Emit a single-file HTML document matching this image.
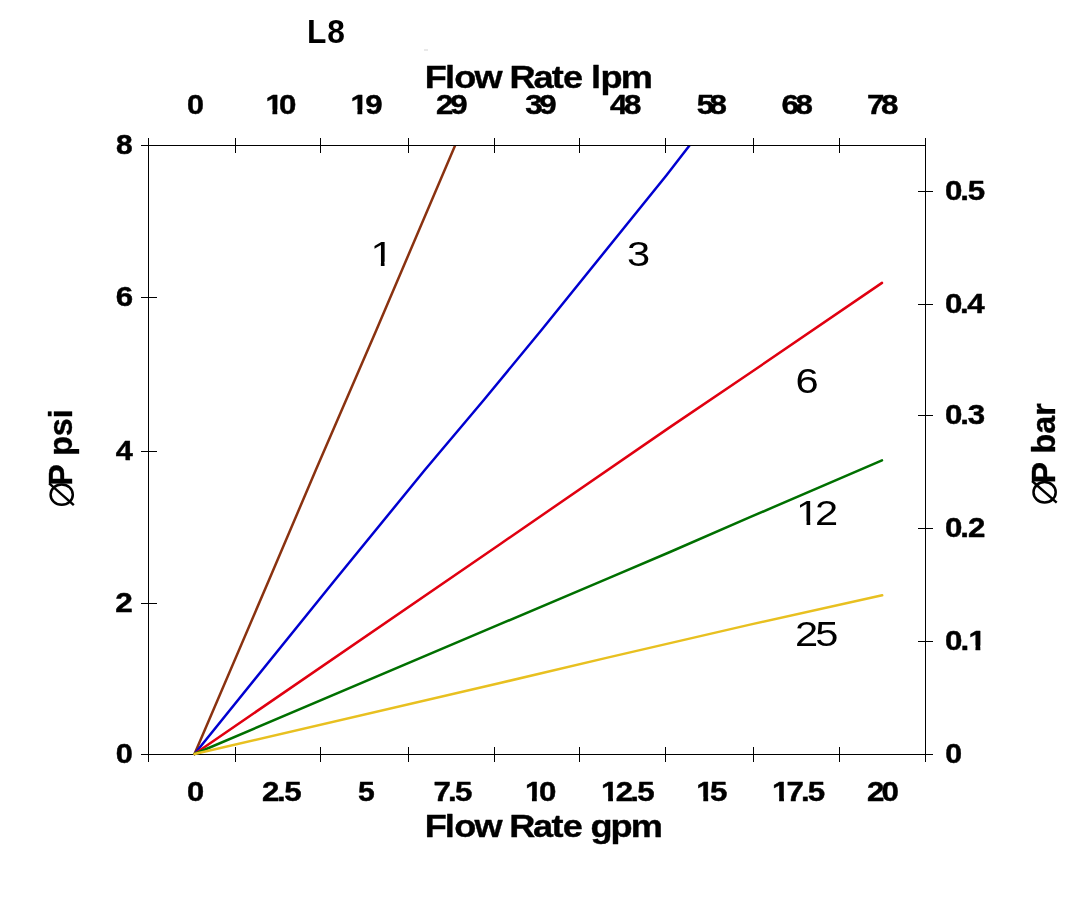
<!DOCTYPE html>
<html><head><meta charset="utf-8"><title>L8 Flow Rate vs Pressure Drop</title>
<style>
html,body{margin:0;padding:0;background:#fff;}
body{width:1086px;height:908px;overflow:hidden;font-family:"Liberation Sans", sans-serif;}
svg{display:block;will-change:transform;}
text{font-family:"Liberation Sans", sans-serif;}
</style></head><body>
<svg width="1086" height="908" viewBox="0 0 1086 908">
<rect x="0" y="0" width="1086" height="908" fill="#fff"/>
<rect x="424" y="49.5" width="4" height="1" fill="#d4d4d4"/>

<defs><clipPath id="c1_B_2720_22" clipPathUnits="userSpaceOnUse"><rect x="-5" y="-60" width="60" height="55.604"/><rect x="6.128" y="-60" width="4.172" height="70"/></clipPath><clipPath id="c1_R_3500_0" clipPathUnits="userSpaceOnUse"><rect x="-5" y="-60" width="60" height="55.985"/><rect x="8.801" y="-60" width="3.093" height="70"/></clipPath></defs>
<g stroke="#000" stroke-width="1.1" fill="none" shape-rendering="crispEdges">
<line x1="141" y1="145.5" x2="926.0" y2="145.5"/>
<line x1="141" y1="754.5" x2="933" y2="754.5"/>
<line x1="148.5" y1="138" x2="148.5" y2="762"/>
<line x1="925.5" y1="138" x2="925.5" y2="762"/>
<line x1="235.5" y1="138" x2="235.5" y2="153"/>
<line x1="235.5" y1="747" x2="235.5" y2="762"/>
<line x1="320.5" y1="138" x2="320.5" y2="153"/>
<line x1="320.5" y1="747" x2="320.5" y2="762"/>
<line x1="408.5" y1="138" x2="408.5" y2="153"/>
<line x1="408.5" y1="747" x2="408.5" y2="762"/>
<line x1="494.5" y1="138" x2="494.5" y2="153"/>
<line x1="494.5" y1="747" x2="494.5" y2="762"/>
<line x1="579.5" y1="138" x2="579.5" y2="153"/>
<line x1="579.5" y1="747" x2="579.5" y2="762"/>
<line x1="665.5" y1="138" x2="665.5" y2="153"/>
<line x1="665.5" y1="747" x2="665.5" y2="762"/>
<line x1="753.5" y1="138" x2="753.5" y2="153"/>
<line x1="753.5" y1="747" x2="753.5" y2="762"/>
<line x1="839.5" y1="138" x2="839.5" y2="153"/>
<line x1="839.5" y1="747" x2="839.5" y2="762"/>
<line x1="141" y1="603.5" x2="157" y2="603.5"/>
<line x1="141" y1="451.5" x2="157" y2="451.5"/>
<line x1="141" y1="297.5" x2="157" y2="297.5"/>
<line x1="918" y1="641.5" x2="933" y2="641.5"/>
<line x1="918" y1="528.5" x2="933" y2="528.5"/>
<line x1="918" y1="415.5" x2="933" y2="415.5"/>
<line x1="918" y1="304.5" x2="933" y2="304.5"/>
<line x1="918" y1="191.5" x2="933" y2="191.5"/>
</g>
<clipPath id="plot"><rect x="140" y="146" width="800" height="620"/></clipPath>
<g fill="none" stroke-width="2.5" stroke-linejoin="round" stroke-linecap="round" clip-path="url(#plot)">
<polyline stroke="#8a3210" points="194.5,754.0 269.0,580.0 315.8,470.0 376.4,330.0 455.1,145.5"/>
<polyline stroke="#0000d0" points="194.5,754.0 335.0,580.0 424.8,470.0 483.8,400.0 541.5,330.0 666.7,175.0 689.5,145.5"/>
<polyline stroke="#e00010" points="194.5,754.0 500.0,544.2 670.0,427.1 750.0,373.0 882.0,282.9"/>
<polyline stroke="#007000" points="194.5,754.0 500.0,624.2 607.5,578.6 670.0,552.0 750.0,517.2 882.0,460.4"/>
<polyline stroke="#e8c020" points="194.5,754.0 500.0,683.0 607.5,657.6 750.0,624.6 882.2,595.3"/>
</g>
<text transform="translate(187.04 113.83) scale(1.121 1)" x="0.00" y="0" font-size="27.20" font-weight="bold" fill="#000" stroke="#000" stroke-width="0.45" stroke-linejoin="round">0</text>
<text transform="translate(265.41 113.83) scale(1.150 1)" x="0" y="0" font-size="27.20" font-weight="bold" fill="#000" stroke="#000" stroke-width="0.43" stroke-linejoin="round" clip-path="url(#c1_B_2720_22)">1</text>
<text transform="translate(265.41 113.83) scale(1.150 1)" x="11.85" y="0" font-size="27.20" font-weight="bold" fill="#000" stroke="#000" stroke-width="0.43" stroke-linejoin="round">0</text>
<text transform="translate(350.41 113.83) scale(1.150 1)" x="0" y="0" font-size="27.20" font-weight="bold" fill="#000" stroke="#000" stroke-width="0.43" stroke-linejoin="round" clip-path="url(#c1_B_2720_22)">1</text>
<text transform="translate(350.41 113.83) scale(1.150 1)" x="12.96" y="0" font-size="27.20" font-weight="bold" fill="#000" stroke="#000" stroke-width="0.43" stroke-linejoin="round">9</text>
<text transform="translate(435.97 113.83) scale(1.150 1)" x="0.00 12.48" y="0" font-size="27.20" font-weight="bold" fill="#000" stroke="#000" stroke-width="0.43" stroke-linejoin="round">29</text>
<text transform="translate(525.33 113.83) scale(1.150 1)" x="0.00 12.07" y="0" font-size="27.20" font-weight="bold" fill="#000" stroke="#000" stroke-width="0.43" stroke-linejoin="round">39</text>
<text transform="translate(610.08 113.83) scale(1.150 1)" x="0.00 12.12" y="0" font-size="27.20" font-weight="bold" fill="#000" stroke="#000" stroke-width="0.43" stroke-linejoin="round">48</text>
<text transform="translate(696.79 113.83) scale(1.150 1)" x="0.00 10.98" y="0" font-size="27.20" font-weight="bold" fill="#000" stroke="#000" stroke-width="0.43" stroke-linejoin="round">58</text>
<text transform="translate(781.60 113.83) scale(1.150 1)" x="0.00 12.18" y="0" font-size="27.20" font-weight="bold" fill="#000" stroke="#000" stroke-width="0.43" stroke-linejoin="round">68</text>
<text transform="translate(867.11 113.83) scale(1.150 1)" x="0.00 12.01" y="0" font-size="27.20" font-weight="bold" fill="#000" stroke="#000" stroke-width="0.43" stroke-linejoin="round">78</text>
<text transform="translate(186.93 801.23) scale(1.136 1)" x="0.00" y="0" font-size="27.20" font-weight="bold" fill="#000" stroke="#000" stroke-width="0.44" stroke-linejoin="round">0</text>
<text transform="translate(261.97 801.23) scale(1.150 1)" x="0.00 13.01 19.44" y="0" font-size="27.20" font-weight="bold" fill="#000" stroke="#000" stroke-width="0.43" stroke-linejoin="round">2.5</text>
<text transform="translate(357.92 801.23) scale(1.108 1)" x="0.00" y="0" font-size="27.20" font-weight="bold" fill="#000" stroke="#000" stroke-width="0.45" stroke-linejoin="round">5</text>
<text transform="translate(433.51 801.23) scale(1.150 1)" x="0.00 12.69 18.80" y="0" font-size="27.20" font-weight="bold" fill="#000" stroke="#000" stroke-width="0.43" stroke-linejoin="round">7.5</text>
<text transform="translate(524.91 801.23) scale(1.150 1)" x="0" y="0" font-size="27.20" font-weight="bold" fill="#000" stroke="#000" stroke-width="0.43" stroke-linejoin="round" clip-path="url(#c1_B_2720_22)">1</text>
<text transform="translate(524.91 801.23) scale(1.150 1)" x="12.28" y="0" font-size="27.20" font-weight="bold" fill="#000" stroke="#000" stroke-width="0.43" stroke-linejoin="round">0</text>
<text transform="translate(601.11 801.23) scale(1.150 1)" x="0" y="0" font-size="27.20" font-weight="bold" fill="#000" stroke="#000" stroke-width="0.43" stroke-linejoin="round" clip-path="url(#c1_B_2720_22)">1</text>
<text transform="translate(601.11 801.23) scale(1.150 1)" x="12.66 25.32 31.40" y="0" font-size="27.20" font-weight="bold" fill="#000" stroke="#000" stroke-width="0.43" stroke-linejoin="round">2.5</text>
<text transform="translate(696.31 801.23) scale(1.150 1)" x="0" y="0" font-size="27.20" font-weight="bold" fill="#000" stroke="#000" stroke-width="0.43" stroke-linejoin="round" clip-path="url(#c1_B_2720_22)">1</text>
<text transform="translate(696.31 801.23) scale(1.150 1)" x="12.01" y="0" font-size="27.20" font-weight="bold" fill="#000" stroke="#000" stroke-width="0.43" stroke-linejoin="round">5</text>
<text transform="translate(772.11 801.23) scale(1.150 1)" x="0" y="0" font-size="27.20" font-weight="bold" fill="#000" stroke="#000" stroke-width="0.43" stroke-linejoin="round" clip-path="url(#c1_B_2720_22)">1</text>
<text transform="translate(772.11 801.23) scale(1.150 1)" x="12.52 25.03 30.97" y="0" font-size="27.20" font-weight="bold" fill="#000" stroke="#000" stroke-width="0.43" stroke-linejoin="round">7.5</text>
<text transform="translate(866.97 801.23) scale(1.150 1)" x="0.00 12.58" y="0" font-size="27.20" font-weight="bold" fill="#000" stroke="#000" stroke-width="0.43" stroke-linejoin="round">20</text>
<text transform="translate(115.74 762.86) scale(1.129 1)" x="0.00" y="0" font-size="27.20" font-weight="bold" fill="#000" stroke="#000" stroke-width="0.44" stroke-linejoin="round">0</text>
<text transform="translate(115.26 611.86) scale(1.161 1)" x="0.00" y="0" font-size="27.20" font-weight="bold" fill="#000" stroke="#000" stroke-width="0.43" stroke-linejoin="round">2</text>
<text transform="translate(115.69 459.86) scale(1.126 1)" x="0.00" y="0" font-size="27.20" font-weight="bold" fill="#000" stroke="#000" stroke-width="0.44" stroke-linejoin="round">4</text>
<text transform="translate(115.71 305.86) scale(1.148 1)" x="0.00" y="0" font-size="27.20" font-weight="bold" fill="#000" stroke="#000" stroke-width="0.44" stroke-linejoin="round">6</text>
<text transform="translate(115.90 153.86) scale(1.102 1)" x="0.00" y="0" font-size="27.20" font-weight="bold" fill="#000" stroke="#000" stroke-width="0.45" stroke-linejoin="round">8</text>
<text transform="translate(945.15 762.86) scale(1.113 1)" x="0.00" y="0" font-size="27.20" font-weight="bold" fill="#000" stroke="#000" stroke-width="0.45" stroke-linejoin="round">0</text>
<text transform="translate(968.46 649.86) scale(1.150 1)" x="0" y="0" font-size="27.20" font-weight="bold" fill="#000" stroke="#000" stroke-width="0.43" stroke-linejoin="round" clip-path="url(#c1_B_2720_22)">1</text>
<text transform="translate(945.01 649.86) scale(1.150 1)" x="0.00 13.48" y="0" font-size="27.20" font-weight="bold" fill="#000" stroke="#000" stroke-width="0.43" stroke-linejoin="round">0.</text>
<text transform="translate(945.11 536.86) scale(1.150 1)" x="0.00 13.20 19.82" y="0" font-size="27.20" font-weight="bold" fill="#000" stroke="#000" stroke-width="0.43" stroke-linejoin="round">0.2</text>
<text transform="translate(945.11 423.86) scale(1.150 1)" x="0.00 13.10 19.63" y="0" font-size="27.20" font-weight="bold" fill="#000" stroke="#000" stroke-width="0.43" stroke-linejoin="round">0.3</text>
<text transform="translate(945.11 312.86) scale(1.150 1)" x="0.00 12.95 19.31" y="0" font-size="27.20" font-weight="bold" fill="#000" stroke="#000" stroke-width="0.43" stroke-linejoin="round">0.4</text>
<text transform="translate(945.11 199.86) scale(1.150 1)" x="0.00 13.12 19.66" y="0" font-size="27.20" font-weight="bold" fill="#000" stroke="#000" stroke-width="0.43" stroke-linejoin="round">0.5</text>
<text transform="translate(306.88 43.00) scale(0.950 1)" x="0.00 21.48" y="0" font-size="33.40" font-weight="bold" fill="#000">L8</text>
<text transform="translate(424.68 88.40) scale(1.120 1)" x="0.00 18.05 26.49 44.53 67.40 75.84 97.10 113.56 123.60 140.07 148.51 156.95 175.00" y="0" font-size="32.30" font-weight="bold" fill="#000" stroke="#000" stroke-width="0.36" stroke-linejoin="round">Flow Rate lpm</text>
<text transform="translate(424.68 836.60) scale(1.120 1)" x="0.00 18.00 26.39 44.39 67.20 75.59 96.80 113.22 123.21 139.63 148.02 166.02 184.02" y="0" font-size="32.30" font-weight="bold" fill="#000" stroke="#000" stroke-width="0.36" stroke-linejoin="round">Flow Rate gpm</text>
<g transform="translate(72.00 505.80) rotate(-90)">
<ellipse cx="11.15" cy="-10.3" rx="10.2" ry="11.1" fill="none" stroke="#000" stroke-width="2.5"/>
<line x1="0.7" y1="1.8" x2="22.4" y2="-22.8" stroke="#000" stroke-width="2.4"/>
<text x="20.0" y="0" font-size="32.3" font-weight="bold" fill="#000" stroke="#000" stroke-width="0.35" stroke-linejoin="round">P psi</text>
</g>
<g transform="translate(1054.90 503.40) rotate(-90)">
<ellipse cx="11.15" cy="-10.3" rx="10.2" ry="11.1" fill="none" stroke="#000" stroke-width="2.5"/>
<line x1="0.7" y1="1.8" x2="22.4" y2="-22.8" stroke="#000" stroke-width="2.4"/>
<text x="20.0" y="0" font-size="32.3" font-weight="bold" fill="#000" stroke="#000" stroke-width="0.35" stroke-linejoin="round">P bar</text>
</g>
<text transform="translate(370.39 265.70) scale(1.190 1)" x="0" y="0" font-size="35.00" font-weight="normal" fill="#000" clip-path="url(#c1_R_3500_0)">1</text>
<text transform="translate(626.91 265.66) scale(1.190 1)" x="0.00" y="0" font-size="35.00" font-weight="normal" fill="#000">3</text>
<text transform="translate(795.38 392.96) scale(1.190 1)" x="0.00" y="0" font-size="35.00" font-weight="normal" fill="#000">6</text>
<text transform="translate(796.09 525.46) scale(1.190 1)" x="0" y="0" font-size="35.00" font-weight="normal" fill="#000" clip-path="url(#c1_R_3500_0)">1</text>
<text transform="translate(796.09 525.46) scale(1.190 1)" x="16.00" y="0" font-size="35.00" font-weight="normal" fill="#000">2</text>
<text transform="translate(795.11 646.06) scale(1.190 1)" x="0.00 16.96" y="0" font-size="35.00" font-weight="normal" fill="#000">25</text>
</svg>
</body></html>
